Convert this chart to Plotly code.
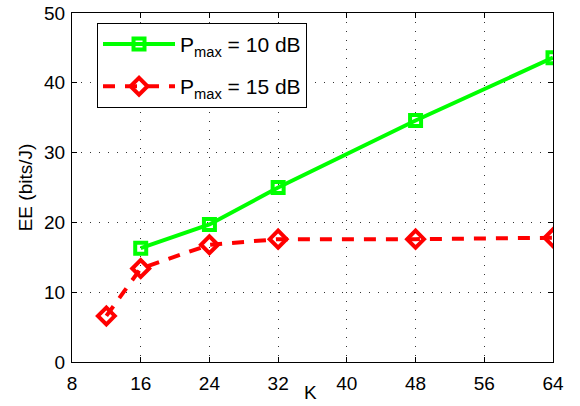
import plotly.graph_objects as go

k_10 = [16, 24, 32, 48, 64]
ee_10 = [16.3, 19.7, 25.0, 34.6, 43.6]
k_15 = [12, 16, 24, 32, 48, 64]
ee_15 = [6.6, 13.4, 16.8, 17.6, 17.6, 17.8]
x_ticks = [8, 16, 24, 32, 40, 48, 56, 64]
y_ticks = [0, 10, 20, 30, 40, 50]

FONT = "Liberation Sans, Arial, Helvetica, sans-serif"

fig = go.Figure()
fig.add_trace(go.Scatter(
    x=k_10, y=ee_10, mode="lines+markers",
    name="P<sub>max</sub> = 10 dB", legendgroup="a",
    line=dict(color="#00ff00", width=4),
    marker=dict(symbol="square-open", size=11, color="#00ff00", line=dict(width=4)),
))
fig.add_trace(go.Scatter(
    x=k_15, y=ee_15, mode="lines+markers",
    name="P<sub>max</sub> = 15 dB", legendgroup="b",
    line=dict(color="#ff0000", width=4, dash="12px,10px"),
    marker=dict(symbol="diamond-open", size=13, color="#ff0000", line=dict(width=4)),
))

axis_common = dict(
    showline=True, linecolor="black", linewidth=1, mirror="ticks",
    ticks="inside", ticklen=5, tickcolor="black",
    showgrid=True, gridcolor="#333333", griddash="1px,8px", gridwidth=1,
    zeroline=False, automargin=False,
    tickfont=dict(family=FONT, size=19, color="black"),
)

fig.update_xaxes(range=[8, 64], tickvals=x_ticks, ticklabelstandoff=4, **axis_common)
fig.update_yaxes(range=[0, 50], tickvals=y_ticks, ticklabelstandoff=2,
                 title=dict(text="EE (bits/J)", standoff=6, font=dict(family=FONT, size=19, color="black")),
                 **axis_common)

fig.add_annotation(text="K", xref="paper", yref="paper", x=0.495, y=-0.086,
                   xanchor="center", yanchor="middle", showarrow=False,
                   font=dict(family=FONT, size=19, color="black"))

fig.update_layout(
    width=580, height=406,
    margin=dict(l=72, r=27, t=13, b=44),
    paper_bgcolor="white", plot_bgcolor="white",
    font=dict(family=FONT, size=19, color="black"),
    legend=dict(x=0.052, y=0.972, xanchor="left", yanchor="top",
                bgcolor="white", bordercolor="black", borderwidth=1,
                font=dict(family=FONT, size=21), itemwidth=72,
                tracegroupgap=12),
    showlegend=True,
)

fig.write_html("out.html", config={"displayModeBar": False},
               post_script="document.body.style.margin='0';document.body.style.padding='0';")
